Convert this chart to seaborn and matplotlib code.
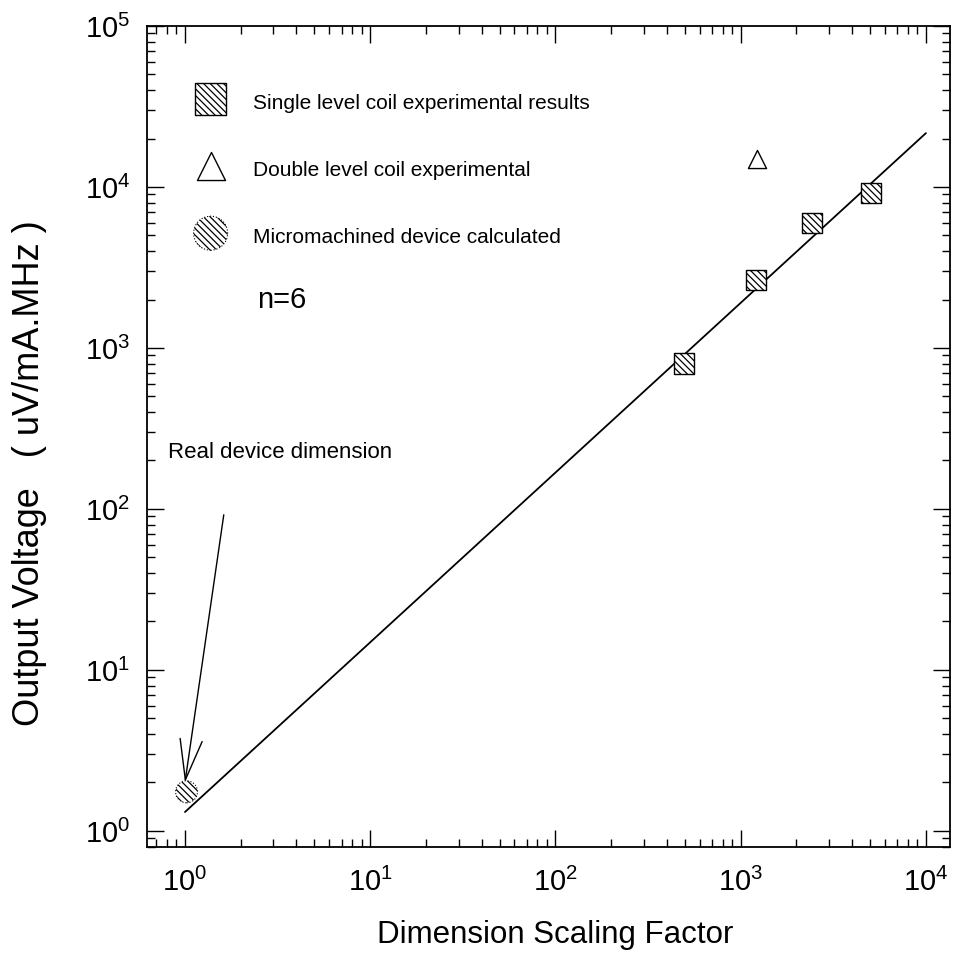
import numpy as np
import pandas as pd
import matplotlib
matplotlib.use("Agg")
import matplotlib.pyplot as plt
import seaborn as sns

# ---- data ----
single_x = [495, 1210, 2430, 5050]
single_y = [800, 2650, 5950, 9150]
double_x = [1230]
double_y = [14900]
micro_x = [1.02]
micro_y = [1.75]
fit_x = [1.0, 1.0e4]
fit_y = [1.31, 21600]
legend_labels = ["Single level coil experimental results",
                 "Double level coil experimental",
                 "Micromachined device calculated"]
x_label = "Dimension Scaling Factor"
y_label = "Output Voltage   ( uV/mA.MHz )"
note_text = "Real device dimension"
n_text = "n=6"

sns.set_style("ticks")
plt.rcParams["font.family"] = ["Liberation Sans", "DejaVu Sans"]
plt.rcParams["mathtext.fontset"] = "custom"
plt.rcParams["mathtext.rm"] = "Liberation Sans"
plt.rcParams["mathtext.it"] = "Liberation Sans:italic"
plt.rcParams["hatch.linewidth"] = 0.9
plt.rcParams["hatch.color"] = "black"
plt.rcParams["text.color"] = "black"
plt.rcParams["axes.labelcolor"] = "black"
plt.rcParams["xtick.color"] = "black"
plt.rcParams["ytick.color"] = "black"

fig = plt.figure(figsize=(9.55, 9.56), dpi=100)
ax = fig.add_axes([147 / 955, 1 - 847 / 956, 803 / 955, 821 / 956])

df_single = pd.DataFrame({"x": single_x, "y": single_y})
df_double = pd.DataFrame({"x": double_x, "y": double_y})
df_micro = pd.DataFrame({"x": micro_x, "y": micro_y})
df_fit = pd.DataFrame({"x": fit_x, "y": fit_y})

sns.lineplot(data=df_fit, x="x", y="y", ax=ax, color="black", lw=1.3, zorder=2)
sns.scatterplot(data=df_single, x="x", y="y", ax=ax, marker="s", s=210,
                facecolor="white", edgecolor="black", linewidth=1.0,
                hatch="\\\\\\\\\\", zorder=3, label=legend_labels[0])
sns.scatterplot(data=df_double, x="x", y="y", ax=ax, marker="^", s=170,
                facecolor="white", edgecolor="black", linewidth=1.0,
                zorder=3, label=legend_labels[1])
sns.scatterplot(data=df_micro, x="x", y="y", ax=ax, marker="o", s=250,
                facecolor="white", edgecolor="black", linewidth=0.8,
                linestyle=":", hatch="\\\\\\\\\\", zorder=3, label=legend_labels[2])

ax.set_xscale("log")
ax.set_yscale("log")
ax.set_xlim(10 ** -0.205, 10 ** 4.13)
ax.set_ylim(10 ** -0.10, 10 ** 5.0)

ax.set_xlabel(x_label, fontsize=22.5)
ax.set_ylabel(y_label, fontsize=26)
ax.xaxis.set_label_coords(0.508, -0.089)
ax.yaxis.set_label_coords(-0.125, 0.455)

ax.tick_params(which="both", direction="in", top=True, right=True,
               labelsize=21, width=1.0, color="black", labelcolor="black")
ax.tick_params(which="major", length=12)
ax.tick_params(axis="x", which="major", pad=15)
ax.tick_params(axis="y", which="major", pad=12)
ax.tick_params(which="minor", length=5.5)
ax.xaxis.set_major_locator(matplotlib.ticker.LogLocator(base=10, numticks=10))
ax.yaxis.set_major_locator(matplotlib.ticker.LogLocator(base=10, numticks=10))
ax.xaxis.set_minor_locator(matplotlib.ticker.LogLocator(base=10, subs=np.arange(2, 10), numticks=20))
ax.yaxis.set_minor_locator(matplotlib.ticker.LogLocator(base=10, subs=np.arange(2, 10), numticks=20))
ax.xaxis.set_minor_formatter(matplotlib.ticker.NullFormatter())
ax.yaxis.set_minor_formatter(matplotlib.ticker.NullFormatter())
for sp in ax.spines.values():
    sp.set_linewidth(1.3)
    sp.set_color("black")
    sp.set_visible(True)

# annotation
ax.text(10 ** -0.092, 223, note_text, fontsize=16, ha="left", va="center")
ax.annotate("", xy=(1.0, 2.0), xytext=(1.62, 92),
            arrowprops=dict(arrowstyle="->, head_length=2.9, head_width=0.8",
                            mutation_scale=10, color="black", lw=1.0,
                            shrinkA=0, shrinkB=0))
ax.text(2.45, 1986, n_text, fontsize=21, ha="left", va="center")

ax.legend(loc="upper left", bbox_to_anchor=((195 - 147) / 803, (847 - 89) / 821),
          frameon=False, fontsize=15, markerscale=1.55,
          handlelength=1.5, handleheight=1.5, handletextpad=1.3,
          labelspacing=2.0, borderpad=0, borderaxespad=0)

fig.savefig("out.png", dpi=100, facecolor="white")
